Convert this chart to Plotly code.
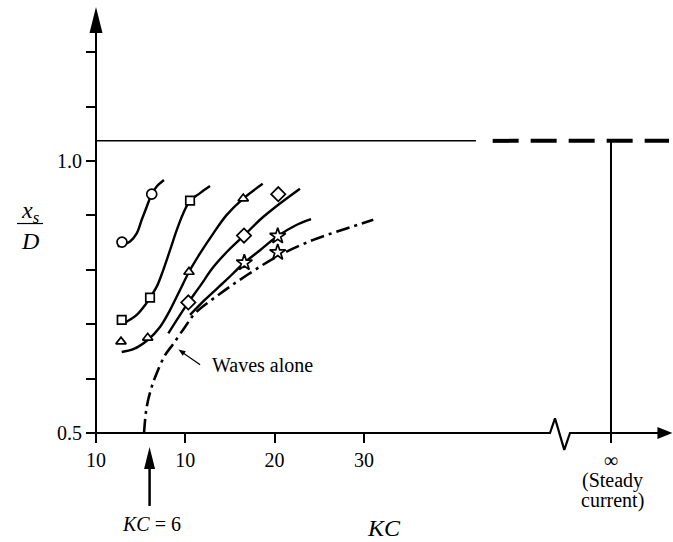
import plotly.graph_objects as go

# ---------------- data ----------------
# curve through circles
c1_x = [2.43, 3.81, 4.56, 5.12, 5.68, 6.24, 6.80, 7.61]
c1_y = [0.843, 0.852, 0.867, 0.892, 0.916, 0.939, 0.953, 0.965]
c1_mx = [2.91, 6.24]
c1_my = [0.851, 0.939]

# curve through squares
c2_x = [3.17, 4.56, 5.49, 6.05, 6.80, 7.54, 8.29, 9.04, 9.78, 10.53, 11.65, 12.77]
c2_y = [0.702, 0.717, 0.735, 0.749, 0.769, 0.800, 0.836, 0.873, 0.904, 0.927, 0.941, 0.954]
c2_mx = [2.88, 6.05, 10.53]
c2_my = [0.708, 0.749, 0.927]

# curve through triangles
c3_x = [2.88, 4.18, 5.79, 7.17, 8.29, 9.41, 10.41, 11.65, 13.14, 14.64, 16.49, 18.67]
c3_y = [0.649, 0.654, 0.671, 0.695, 0.726, 0.763, 0.796, 0.830, 0.867, 0.901, 0.931, 0.958]
c3_mx = [2.80, 5.79, 10.41, 16.49]
c3_my = [0.668, 0.675, 0.796, 0.931]

# curve through diamonds
c4_x = [8.10, 9.18, 10.34, 11.65, 13.14, 14.78, 16.57, 18.37, 20.38, 22.84]
c4_y = [0.683, 0.711, 0.740, 0.770, 0.805, 0.835, 0.863, 0.892, 0.919, 0.949]
c4_mx = [10.34, 16.57, 20.41]
c4_my = [0.740, 0.863, 0.939]

# curve through stars
c5_x = [10.53, 12.21, 14.45, 16.61, 18.37, 20.35, 22.28, 24.08]
c5_y = [0.717, 0.745, 0.779, 0.813, 0.836, 0.862, 0.881, 0.893]
c5_mx = [16.61, 20.35, 20.35]
c5_my = [0.813, 0.862, 0.832]

# "waves alone" dash-dot curve
wv_x = [5.38, 5.68, 6.24, 6.80, 7.73, 8.66, 9.97, 11.09, 13.89, 16.88, 20.35, 24.33, 27.88, 31.05]
wv_y = [0.500, 0.548, 0.585, 0.610, 0.643, 0.664, 0.695, 0.720, 0.756, 0.790, 0.825, 0.855, 0.875, 0.892]

# steady current level and axis features
steady_y = 1.037
x_inf = 57.67
kc_onset = 6

x_tickvals = [0, 10, 20, 30, x_inf]
x_ticktext = ["10", "10", "20", "30", "\u221e"]
y_tickvals = [0.5, 1.0]
y_ticktext = ["0.5", "1.0"]
y_minor_ticks = [0.6, 0.7, 0.8, 0.9, 1.1, 1.2]

# axis extents (data units)
X_RANGE = [-10.75, 64.614]
Y_RANGE = [0.29963, 1.29596]
y_axis_top = 1.24
y_axis_bottom = 0.487
y_arrow_tip = 1.283
x_axis_end = 63.3
x_arrow_tip = 64.55
solid_end = 42.55
dash_start = 44.42
dash_end = 64.17
brk_x = [50.84, 51.40, 52.44, 53.08]
brk_y = [0.5, 0.527, 0.469, 0.5]
waves_label_x, waves_label_y = 12.77, 0.625
waves_arrow_x, waves_arrow_y = 9.23, 0.6535
ylab_x, ylab_y = -7.39, 0.8814

FONT = "Liberation Serif"
BLACK = "black"
LW = 2.4

fig = go.Figure()

def curve(xs, ys):
    fig.add_trace(go.Scatter(x=xs, y=ys, mode="lines",
                             line=dict(color=BLACK, width=LW, shape="spline", smoothing=1.0),
                             hoverinfo="skip", showlegend=False))

def marks(xs, ys, symbol, size):
    fig.add_trace(go.Scatter(x=xs, y=ys, mode="markers",
                             marker=dict(symbol=symbol, size=size, color="white",
                                         line=dict(color=BLACK, width=1.7)),
                             cliponaxis=False, hoverinfo="skip", showlegend=False))

# axis lines
fig.add_trace(go.Scatter(x=[0, 0], y=[y_axis_bottom, y_axis_top], mode="lines",
                         line=dict(color=BLACK, width=2), hoverinfo="skip", showlegend=False))
fig.add_trace(go.Scatter(x=[0] + brk_x + [x_axis_end], y=[0.5] + brk_y + [0.5], mode="lines",
                         line=dict(color=BLACK, width=2.2), hoverinfo="skip", showlegend=False))

# steady current line
fig.add_trace(go.Scatter(x=[0, solid_end], y=[steady_y, steady_y], mode="lines",
                         line=dict(color=BLACK, width=1.5), hoverinfo="skip", showlegend=False))
fig.add_trace(go.Scatter(x=[dash_start, dash_end], y=[steady_y, steady_y], mode="lines",
                         line=dict(color=BLACK, width=4, dash="26px,12px"),
                         hoverinfo="skip", showlegend=False))
fig.add_trace(go.Scatter(x=[x_inf, x_inf], y=[0.5, steady_y], mode="lines",
                         line=dict(color=BLACK, width=2), hoverinfo="skip", showlegend=False))

# waves alone
fig.add_trace(go.Scatter(x=wv_x, y=wv_y, mode="lines",
                         line=dict(color=BLACK, width=2.6, shape="spline", dash="14px,5px,3px,5px"),
                         hoverinfo="skip", showlegend=False))

for xs, ys in [(c1_x, c1_y), (c2_x, c2_y), (c3_x, c3_y), (c4_x, c4_y), (c5_x, c5_y)]:
    curve(xs, ys)

marks(c1_mx, c1_my, "circle", 10)
marks(c2_mx, c2_my, "square", 8.5)
marks(c3_mx, c3_my, "triangle-up", 9)
marks(c4_mx, c4_my, "diamond", 11)
marks(c5_mx, c5_my, "star", 12)

def head(xa, ya, path):
    return dict(type="path", xref="x", yref="y", xsizemode="pixel", ysizemode="pixel",
                xanchor=xa, yanchor=ya, path=path, fillcolor=BLACK, line=dict(width=0))

def seg(xa, ya, x0, y0, x1, y1, w):
    return dict(type="line", xref="x", yref="y", xsizemode="pixel", ysizemode="pixel",
                xanchor=xa, yanchor=ya, x0=x0, y0=y0, x1=x1, y1=y1,
                line=dict(color=BLACK, width=w))

shapes = [
    head(0, y_arrow_tip, "M0,0 L-6.5,-26 L6.5,-26 Z"),
    head(x_arrow_tip, 0.5, "M0,0 L-15,6 L-15,-6 Z"),
    head(kc_onset, 0.4743, "M0,0 L-5.5,-22 L5.5,-22 Z"),
    seg(kc_onset, 0.4743, 0, -20, 0, -59, 2.5),
    # pointer to the "waves alone" curve
    head(waves_arrow_x, waves_arrow_y, "M0,0 L7.4,-1.8 L4.4,-6.2 Z"),
    seg(waves_arrow_x, waves_arrow_y, 5.5, -3.9, 21.7, -15.3, 1.2),
    # fraction bar of the y label
    seg(ylab_x, ylab_y, -13, 2, 13, 2, 1.2),
]

annotations = [
    dict(x=ylab_x, y=ylab_y, xref="x", yref="y", text="<i>x<sub>s</sub></i><br><i>D</i>",
         showarrow=False, align="center", font=dict(family=FONT, size=24, color=BLACK)),
    dict(x=waves_label_x, y=waves_label_y, xref="x", yref="y", text="Waves alone",
         showarrow=False, xanchor="left", font=dict(family=FONT, size=20, color=BLACK)),
    dict(x=kc_onset + 0.16, y=0.3327, xref="x", yref="y", text="<i>KC</i> = 6", showarrow=False,
         font=dict(family=FONT, size=20, color=BLACK)),
    dict(x=32.25, y=0.3254, xref="x", yref="y", text="<i>KC</i>", showarrow=False,
         font=dict(family=FONT, size=24, color=BLACK)),
    dict(x=x_inf + 0.2, y=0.4135, xref="x", yref="y", text="(Steady", showarrow=False,
         font=dict(family=FONT, size=20, color=BLACK)),
    dict(x=x_inf + 0.2, y=0.3755, xref="x", yref="y", text="current)", showarrow=False,
         font=dict(family=FONT, size=20, color=BLACK)),
]

fig.update_layout(
    width=673, height=542, autosize=False,
    margin=dict(l=0, r=0, t=0, b=0, pad=0),
    paper_bgcolor="white", plot_bgcolor="white",
    showlegend=False,
    shapes=shapes, annotations=annotations,
    xaxis=dict(range=X_RANGE, anchor="free", position=(542 - 433) / 542,
               showline=False, showgrid=False, zeroline=False,
               tickmode="array", tickvals=x_tickvals, ticktext=x_ticktext,
               ticks="outside", ticklen=9, tickwidth=2, tickcolor=BLACK,
               tickfont=dict(family=FONT, size=20, color=BLACK), fixedrange=True),
    yaxis=dict(range=Y_RANGE, anchor="free", position=96 / 673,
               showline=False, showgrid=False, zeroline=False,
               tickmode="array", tickvals=y_tickvals, ticktext=y_ticktext,
               ticks="outside", ticklen=10, tickwidth=2, tickcolor=BLACK,
               minor=dict(tickmode="array", tickvals=y_minor_ticks, ticks="outside",
                          ticklen=10, tickwidth=2, tickcolor=BLACK, showgrid=False),
               tickfont=dict(family=FONT, size=20, color=BLACK), fixedrange=True),
)

fig.write_html("out.html")
